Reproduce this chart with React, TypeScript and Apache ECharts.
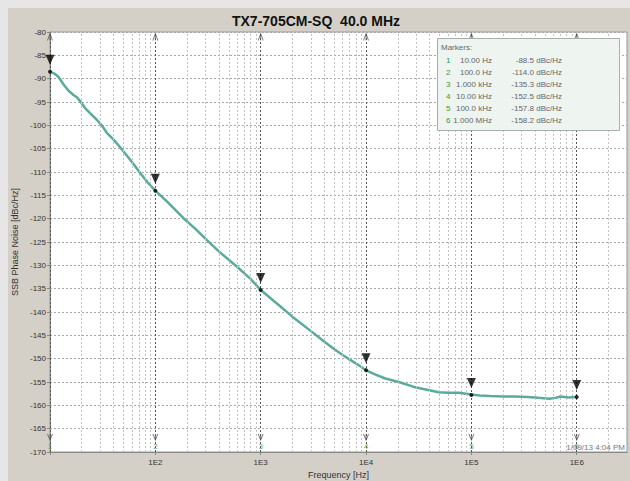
import React, { useEffect, useRef } from "react";
import * as echarts from "echarts";

const titleText = "TX7-705CM-SQ  40.0 MHz";
const xAxisName = "Frequency [Hz]";
const yAxisName = "SSB Phase Noise [dBc/Hz]";
const dateText = "1/09/13 4:04 PM";

const markerIds = ["1", "2", "3", "4", "5", "6"];
const markerFreqs = [10, 100, 1000, 10000, 100000, 1000000];
const markerValues = [-88.5, -114.0, -135.3, -152.5, -157.8, -158.2];
const markerFreqLabels = ["10.00 Hz", "100.0 Hz", "1.000 kHz", "10.00 kHz", "100.0 kHz", "1.000 MHz"];

const curveFreqs = [
  10, 11, 12, 13.4, 15, 16.7, 18, 19.3, 21.5, 24, 27.8, 31, 34.6, 40, 46.3, 55, 63, 71.8, 85, 100,
  130, 185, 240, 309, 400, 596, 800, 1000,
  1500, 2000, 3000, 4000, 5000, 6000, 7000, 8000, 10000,
  12000, 15000, 21200, 28000, 35000, 49000, 60000, 75800, 100000,
  120000, 150000, 204000, 260000, 340000, 430000, 550000, 630000, 700000, 830000, 1000000,
];
const curveValues = [
  -88.5, -88.9, -89.6, -91.2, -92.6, -93.5, -94.0, -94.8, -96.3, -97.4, -98.8, -100.0, -101.6, -103.0, -104.7, -106.8, -108.5, -110.2, -112.3, -114.0,
  -116.4, -119.9, -122.2, -124.6, -127.0, -130.3, -132.9, -135.3,
  -138.6, -141.0, -144.1, -146.3, -148.0, -149.2, -150.2, -151.0, -152.5,
  -153.3, -154.2, -155.1, -156.0, -156.5, -157.2, -157.3, -157.3, -157.7,
  -157.9, -158.0, -158.1, -158.1, -158.2, -158.4, -158.6, -158.4, -158.1, -158.3, -158.2,
];

const minorFreqs = [
  20, 30, 40, 50, 60, 70, 80, 90,
  200, 300, 400, 500, 600, 700, 800, 900,
  2000, 3000, 4000, 5000, 6000, 7000, 8000, 9000,
  20000, 30000, 40000, 50000, 60000, 70000, 80000, 90000,
  200000, 300000, 400000, 500000, 600000, 700000, 800000, 900000,
  2000000,
];

const yMin = -170;
const yMax = -80;
const yStep = 5;
const xMin = 10;
const xMax = 3000000;

const FONT = "'Liberation Sans', Arial, sans-serif";

export default function App() {
  const ref = useRef<HTMLDivElement>(null);

  useEffect(() => {
    const chart = echarts.init(ref.current!, null, { renderer: "svg" });

    const legendRows: any[] = [];
    const rowY0 = 52.7;
    const rowDy = 11.9;
    markerIds.forEach((id, i) => {
      const y = rowY0 + i * rowDy;
      legendRows.push({
        type: "text", x: 438, y,
        style: { text: id, fill: "#2f9a3a", font: `8px ${FONT}`, textVerticalAlign: "middle", textAlign: "left" },
      });
      legendRows.push({
        type: "text", x: 484, y,
        style: { text: markerFreqLabels[i], fill: "#666", font: `8px ${FONT}`, textVerticalAlign: "middle", textAlign: "right" },
      });
      legendRows.push({
        type: "text", x: 554, y,
        style: { text: `${markerValues[i].toFixed(1)} dBc/Hz`, fill: "#666", font: `8px ${FONT}`, textVerticalAlign: "middle", textAlign: "right" },
      });
    });

    const option: any = {
      animation: false,
      backgroundColor: "#d4d0c8",
      textStyle: { fontFamily: FONT },
      grid: {
        left: 42, top: 24, right: 3, bottom: 29,
        outerBoundsMode: "none",
        containLabel: false,
        show: true, borderColor: "#9a9a9a", borderWidth: 1, backgroundColor: "#ffffff",
      },
      xAxis: {
        type: "log",
        logBase: 10,
        min: xMin,
        max: xMax,
        name: xAxisName,
        nameLocation: "middle",
        nameGap: 16,
        nameTextStyle: { fontSize: 9, color: "#333", fontFamily: FONT },
        axisLine: { show: true, lineStyle: { color: "#888" } },
        axisTick: { show: true, length: 3, lineStyle: { color: "#888" } },
        axisLabel: {
          fontSize: 8,
          color: "#333",
          margin: 6,
          showMaxLabel: false,
          formatter: (v: number) => {
            const e = Math.round(Math.log10(v));
            return e >= 2 && e <= 6 && Math.abs(Math.pow(10, e) - v) < 1e-6 * v ? "1E" + e : "";
          },
        },
        splitLine: { show: false },
      },
      yAxis: {
        type: "value",
        min: yMin,
        max: yMax,
        interval: yStep,
        name: yAxisName,
        nameLocation: "middle",
        nameGap: 29,
        nameTextStyle: { fontSize: 9, color: "#333", fontFamily: FONT },
        axisLine: { show: true, lineStyle: { color: "#888" } },
        axisTick: { show: true, length: 3, lineStyle: { color: "#888" } },
        axisLabel: { fontSize: 8, color: "#333", margin: 4 },
        splitLine: { show: true, lineStyle: { color: "#a8a8a8", type: [2, 2], width: 1 } },
      },
      series: [
        {
          name: "minorGrid",
          type: "line",
          data: [],
          z: 1,
          silent: true,
          markLine: {
            silent: true,
            symbol: "none",
            label: { show: false },
            lineStyle: { color: "#c2c2c2", type: [2, 2], width: 1 },
            data: minorFreqs.map((f) => ({ xAxis: f })),
          },
        },
        {
          name: "markerLines",
          type: "line",
          data: [],
          z: 2,
          silent: true,
          markLine: {
            silent: true,
            symbol: "none",
            label: { show: false },
            lineStyle: { color: "#555", type: [2, 2], width: 1 },
            data: markerFreqs.map((f) => ({ xAxis: f })),
          },
        },
        {
          name: "curve",
          type: "line",
          data: curveFreqs.map((f, i) => [f, curveValues[i]]),
          showSymbol: false,
          symbol: "none",
          z: 3,
          lineStyle: { color: "#5aab9b", width: 2.5 },
        },
        {
          name: "markerDots",
          type: "scatter",
          data: markerFreqs.map((f, i) => [f, markerValues[i]]),
          symbol: "circle",
          symbolSize: 4,
          itemStyle: { color: "#000" },
          z: 5,
          clip: false,
        },
        {
          name: "markerTriangles",
          type: "scatter",
          data: markerFreqs.map((f, i) => [f, markerValues[i]]),
          symbol: "triangle",
          symbolRotate: 180,
          symbolSize: [9, 10],
          symbolOffset: [0, -12],
          itemStyle: { color: "#000" },
          z: 5,
          clip: false,
        },
        {
          name: "topArrows",
          type: "scatter",
          data: markerFreqs.map((f) => [f, yMax]),
          symbol: "path://M0,10 L5,0 L10,10 M5,0 L5,10",
          symbolSize: [5, 7],
          symbolOffset: [0, 5],
          itemStyle: { color: "rgba(0,0,0,0)", borderColor: "#555", borderWidth: 1 },
          z: 5,
          clip: false,
        },
        {
          name: "bottomArrows",
          type: "scatter",
          data: markerFreqs.map((f) => [f, yMin]),
          symbol: "path://M0,0 L5,10 L10,0 M5,0 L5,10",
          symbolSize: [5, 6],
          symbolOffset: [0, -15],
          itemStyle: { color: "rgba(0,0,0,0)", borderColor: "#555", borderWidth: 1 },
          z: 5,
          clip: false,
        },
        {
          name: "bottomIds",
          type: "scatter",
          data: markerFreqs.map((f, i) => ({ value: [f, yMin], name: markerIds[i] })),
          symbolSize: 1,
          itemStyle: { color: "rgba(0,0,0,0)" },
          label: {
            show: true,
            position: "inside",
            offset: [0, -6],
            formatter: (p: any) => p.name,
            color: "#2f9a3a",
            fontSize: 8,
            fontFamily: FONT,
          },
          z: 6,
          clip: false,
        },
      ],
      graphic: [
        {
          type: "text",
          x: 308,
          y: 13,
          style: { text: titleText, fill: "#111", font: `bold 14px ${FONT}`, textAlign: "center", textVerticalAlign: "middle" },
        },
        {
          type: "text",
          x: 617,
          y: 439,
          z: 10,
          style: { text: dateText, fill: "#777", font: `8px ${FONT}`, textAlign: "right", textVerticalAlign: "middle" },
        },
        {
          type: "rect",
          shape: { x: 429.5, y: 30.5, width: 182, height: 92 },
          style: { fill: "#eef5f1", stroke: "#a8aea8", lineWidth: 1 },
          z: 10,
        },
        {
          type: "text",
          x: 433,
          y: 39,
          z: 11,
          style: { text: "Markers:", fill: "#666", font: `8px ${FONT}`, textAlign: "left", textVerticalAlign: "middle" },
        },
        ...legendRows.map((r) => ({ ...r, z: 11 })),
      ],
    };

    chart.setOption(option);
    return () => chart.dispose();
  }, []);

  return (
    <div style={{ position: "fixed", left: 0, top: 0, width: 630, height: 481, background: "#e6e6e6" }}>
      <div ref={ref} style={{ position: "absolute", left: 8, top: 8, width: 622, height: 473 }} />
    </div>
  );
}
